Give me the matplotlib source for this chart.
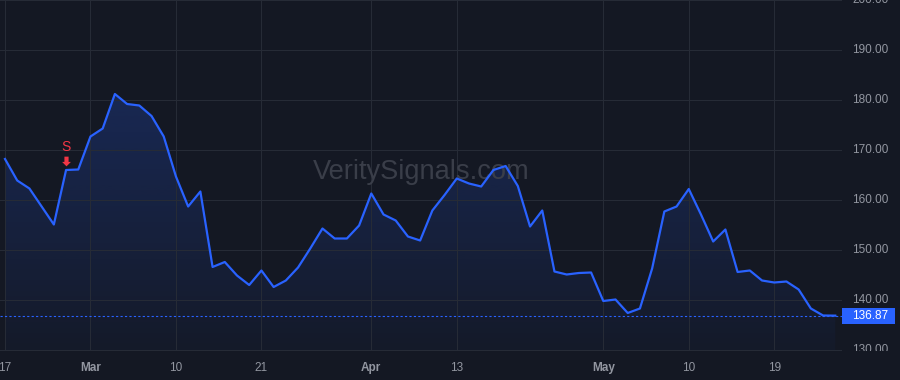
import numpy as np
import matplotlib
matplotlib.use("Agg")
import matplotlib.pyplot as plt
from matplotlib.colors import to_rgb
from matplotlib.path import Path
from matplotlib.patches import Rectangle
from matplotlib.transforms import Bbox, TransformedBbox, blended_transform_factory, offset_copy

# ---------------------------------------------------------------------------
# Data (one value per session)
# ---------------------------------------------------------------------------
prices = [
    168.2, 163.9, 162.3, 158.7, 155.1, 166.0, 166.1, 172.7, 174.3, 181.2,
    179.2, 178.9, 176.8, 172.7, 164.7, 158.7, 161.7, 146.6, 147.6, 144.9,
    143.0, 145.9, 142.6, 143.9, 146.5, 150.3, 154.3, 152.3, 152.3, 154.9,
    161.3, 157.1, 155.9, 152.7, 151.9, 157.9, 161.0, 164.3, 163.3, 162.7,
    166.0, 166.8, 162.8, 154.7, 157.9, 145.7, 145.1, 145.4, 145.5, 139.8,
    140.1, 137.4, 138.3, 146.3, 157.7, 158.7, 162.2, 157.1, 151.7, 154.1,
    145.6, 145.9, 143.9, 143.5, 143.7, 142.1, 138.3, 136.9, 136.87,
]
tick_idx = [0, 7, 14, 21, 30, 37, 49, 56, 63]
tick_labels = ["17", "Mar", "10", "21", "Apr", "13", "May", "10", "19"]
month_labels = ["Mar", "Apr", "May"]
price_ticks = [130, 140, 150, 160, 170, 180, 190, 200]
signal_idx = 5
signal_text = "S"
watermark = "VeritySignals.com"

# ---------------------------------------------------------------------------
# Style
# ---------------------------------------------------------------------------
BG = "#141823"
GRID = "#262b36"
TXT = "#9296a0"
LINE = "#2962ff"
RED = "#f23645"
WM = "#3a3e49"
Y_LO, Y_HI = 129.8, 200.0
FS = 8.5

plt.rcParams["font.family"] = ["Liberation Sans", "DejaVu Sans"]

fig = plt.figure(figsize=(9, 3.8), dpi=100, facecolor=BG)
ax = fig.add_axes([0, 29 / 380, 842 / 900, 351 / 380], facecolor=BG)

x = np.arange(len(prices))

# gradient area under the line
top = max(prices)
rgba = np.zeros((256, 1, 4))
rgba[..., :3] = to_rgb(LINE)
rgba[:, 0, 3] = np.linspace(0.22, 0.03, 256)
im = ax.imshow(rgba, extent=(x[0], x[-1], Y_LO, top), aspect="auto",
               origin="upper", zorder=1, interpolation="bilinear")
poly = ax.fill_between(x, prices, Y_LO, facecolor="none", edgecolor="none")
im.set_clip_path(poly.get_paths()[0], transform=ax.transData)

ax.plot(x, prices, color=LINE, lw=1.6, zorder=3, solid_joinstyle="round")
ax.axhline(prices[-1], color=LINE, lw=0.8, ls=(0, (2, 2)), zorder=2)

ax.set_xlim(-0.41, 68.55)
ax.set_ylim(Y_LO, Y_HI)

ax.set_xticks(tick_idx, tick_labels)
ax.set_yticks(price_ticks)
ax.grid(True, color=GRID, lw=0.75, zorder=0)
ax.tick_params(length=0, labelcolor=TXT, labelsize=FS, pad=8)
ax.tick_params(axis="y", labelleft=False, labelright=False)
for lbl in ax.get_xticklabels():
    if lbl.get_text() in month_labels:
        lbl.set_fontweight("bold")
for s in ax.spines.values():
    s.set_visible(False)

# watermark
ax.text(0.5, 0.51, watermark, transform=ax.transAxes, ha="center", va="center",
        fontsize=19.6, color=WM, zorder=2)

# sell signal: red down arrow + "S"
arrow = Path([(-2, 4.65), (2, 4.65), (2, -0.4), (4.2, -0.4), (0, -4.65),
              (-4.2, -0.4), (-2, -0.4), (-2, 4.65)], closed=True)
ax.plot([signal_idx], [prices[signal_idx]], marker=arrow, ms=7, color=RED,
        mec="none", zorder=4,
        transform=offset_copy(ax.transData, fig=fig, y=8.7, units="dots"))
ax.text(signal_idx, prices[signal_idx], signal_text, color=RED, fontsize=10,
        ha="center", va="center", zorder=4,
        transform=offset_copy(ax.transData, fig=fig, y=22.7, units="dots"))

# right price scale (labels clipped to the pane height, as in the reference)
price_tr = blended_transform_factory(fig.transFigure, ax.transData)
clip = TransformedBbox(Bbox.from_extents(842 / 900, 29 / 380, 1, 1), fig.transFigure)
for v in price_ticks:
    t = fig.text(852 / 900, v, f"{v:.2f}", transform=price_tr, ha="left",
                 va="center", fontsize=FS, color=TXT, clip_on=True)
    t.set_clip_box(clip)

last = prices[-1]
fig.patches.append(Rectangle((842 / 900, last - 1.63), 53 / 900, 3.26,
                             transform=price_tr, facecolor=LINE, edgecolor="none"))
fig.text(852 / 900, last, f"{last:.2f}", transform=price_tr, ha="left",
         va="center", fontsize=FS, color="white")

fig.savefig("out.png", dpi=100, facecolor=BG)
